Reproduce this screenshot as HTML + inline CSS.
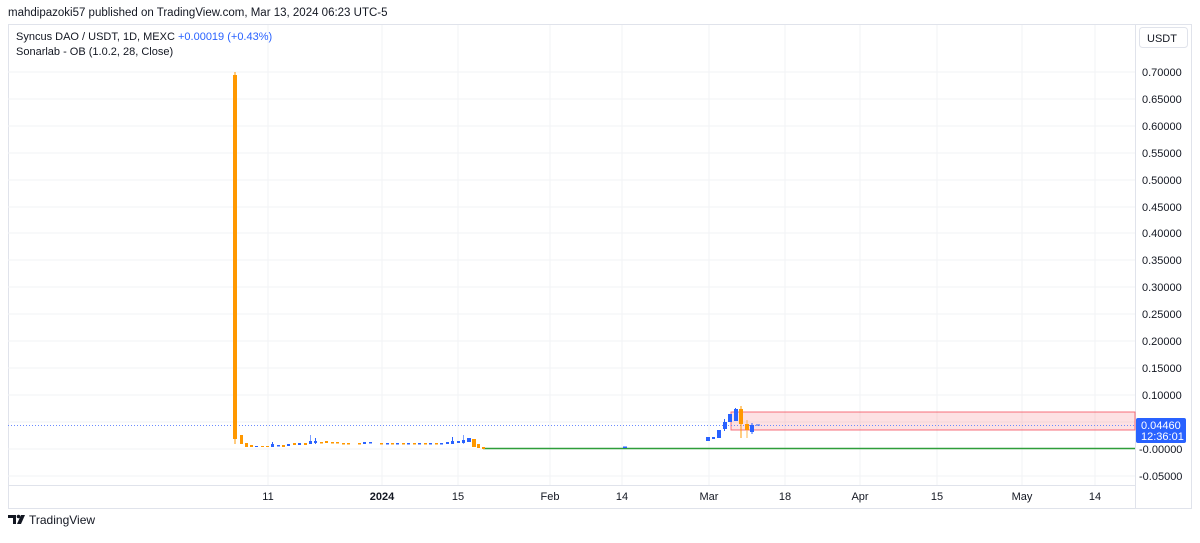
<!DOCTYPE html>
<html><head><meta charset="utf-8"><style>
body{margin:0;background:#fff;width:1200px;height:538px;overflow:hidden;font-family:"Liberation Sans",sans-serif}
</style></head><body>
<svg width="1200" height="538" xmlns="http://www.w3.org/2000/svg" font-family="Liberation Sans, sans-serif">
<rect width="1200" height="538" fill="#fff"/>
<text x="8" y="16" font-size="11.5" fill="#131722">mahdipazoki57 published on TradingView.com, Mar 13, 2024 06:23 UTC-5</text>
<rect x="8.5" y="24.5" width="1183" height="484" fill="none" stroke="#e0e3eb"/>
<line x1="1135.5" y1="25" x2="1135.5" y2="508" stroke="#e0e3eb"/>
<line x1="8" y1="485.5" x2="1135" y2="485.5" stroke="#e0e3eb"/>
<g stroke="#f2f3f5">
<line x1="8" y1="72" x2="1135" y2="72"/><line x1="8" y1="99" x2="1135" y2="99"/><line x1="8" y1="126" x2="1135" y2="126"/><line x1="8" y1="153" x2="1135" y2="153"/><line x1="8" y1="180" x2="1135" y2="180"/><line x1="8" y1="207" x2="1135" y2="207"/><line x1="8" y1="233" x2="1135" y2="233"/><line x1="8" y1="260" x2="1135" y2="260"/><line x1="8" y1="287" x2="1135" y2="287"/><line x1="8" y1="314" x2="1135" y2="314"/><line x1="8" y1="341" x2="1135" y2="341"/><line x1="8" y1="368" x2="1135" y2="368"/><line x1="8" y1="395" x2="1135" y2="395"/><line x1="8" y1="422" x2="1135" y2="422"/><line x1="8" y1="449" x2="1135" y2="449"/><line x1="8" y1="476" x2="1135" y2="476"/>
<line x1="268" y1="25" x2="268" y2="485"/><line x1="382" y1="25" x2="382" y2="485"/><line x1="458" y1="25" x2="458" y2="485"/><line x1="550" y1="25" x2="550" y2="485"/><line x1="622" y1="25" x2="622" y2="485"/><line x1="709" y1="25" x2="709" y2="485"/><line x1="785" y1="25" x2="785" y2="485"/><line x1="860" y1="25" x2="860" y2="485"/><line x1="937" y1="25" x2="937" y2="485"/><line x1="1022" y1="25" x2="1022" y2="485"/><line x1="1095" y1="25" x2="1095" y2="485"/>
</g>
<text x="16" y="40" font-size="11" fill="#131722">Syncus DAO / USDT, 1D, MEXC <tspan fill="#2962ff">+0.00019 (+0.43%)</tspan></text>
<text x="16" y="55" font-size="11" fill="#131722">Sonarlab - OB (1.0.2, 28, Close)</text>
<rect x="1139.5" y="27.5" width="48" height="20" rx="3" fill="#fff" stroke="#e0e3eb"/>
<text x="1147" y="42" font-size="11" fill="#131722">USDT</text>
<g font-size="11" fill="#131722">
<text x="1142" y="76">0.70000</text><text x="1142" y="103">0.65000</text><text x="1142" y="130">0.60000</text><text x="1142" y="157">0.55000</text><text x="1142" y="184">0.50000</text><text x="1142" y="211">0.45000</text><text x="1142" y="237">0.40000</text><text x="1142" y="264">0.35000</text><text x="1142" y="291">0.30000</text><text x="1142" y="318">0.25000</text><text x="1142" y="345">0.20000</text><text x="1142" y="372">0.15000</text><text x="1142" y="399">0.10000</text><text x="1139" y="453">-0.00000</text><text x="1139" y="480">-0.05000</text>
</g>
<g font-size="11" fill="#131722" text-anchor="middle">
<text x="268" y="500">11</text><text x="382" y="500" font-weight="bold">2024</text><text x="458" y="500">15</text><text x="550" y="500">Feb</text><text x="622" y="500">14</text><text x="709" y="500">Mar</text><text x="785" y="500">18</text><text x="860" y="500">Apr</text><text x="937" y="500">15</text><text x="1022" y="500">May</text><text x="1095" y="500">14</text>
</g>
<rect x="731" y="412" width="404" height="18" fill="#f23645" fill-opacity="0.15" stroke="#f23645" stroke-opacity="0.7"/>
<line x1="483" y1="448.5" x2="1135" y2="448.5" stroke="#2e9e3a" stroke-width="1.5"/>
<line x1="8" y1="425.5" x2="1135" y2="425.5" stroke="#6b8cff" stroke-dasharray="1,2"/>
<g>
<line x1="235" y1="72" x2="235" y2="444" stroke="#ff9800"/>
<rect x="233" y="75" width="4" height="364" fill="#ff9800"/>
<g fill="#ff9800">
<rect x="240" y="435" width="3" height="9"/><rect x="245" y="443" width="3" height="4"/><rect x="250" y="445" width="3" height="2"/><rect x="261" y="446" width="3" height="1"/><rect x="266" y="446" width="3" height="1"/><rect x="282" y="445" width="3" height="2"/><rect x="293" y="443" width="3" height="2"/><rect x="304" y="443" width="3" height="2"/><rect x="320" y="442" width="3" height="1.5"/><rect x="325" y="441" width="3" height="2"/><rect x="331" y="442" width="3" height="1.5"/><rect x="336" y="442" width="3" height="1.5"/><rect x="342" y="443" width="3" height="1.5"/><rect x="347" y="443" width="3" height="1.5"/><rect x="358" y="443" width="3" height="1.5"/><rect x="380" y="443" width="3" height="1.5"/><rect x="391" y="443" width="3" height="1.5"/><rect x="402" y="443" width="3" height="1.5"/><rect x="413" y="443" width="3" height="1.5"/><rect x="424" y="443" width="3" height="1.5"/><rect x="435" y="443" width="3" height="1.5"/><rect x="472" y="439" width="4" height="8"/><rect x="477" y="444" width="3" height="4"/><rect x="482" y="447" width="3" height="2"/>
<line x1="741" y1="406" x2="741" y2="438" stroke="#ff9800"/><rect x="739" y="409" width="4" height="15"/>
<line x1="747" y1="420" x2="747" y2="438" stroke="#ffb74d"/><rect x="745" y="424" width="4" height="6"/>
</g>
<g fill="#2962ff">
<rect x="255" y="446" width="3" height="1"/><rect x="271" y="444" width="3" height="3"/><line x1="272.5" y1="442" x2="272.5" y2="447" stroke="#2962ff"/><rect x="277" y="445" width="3" height="1.5"/><rect x="287" y="444" width="3" height="2"/><rect x="298" y="443" width="3" height="2"/><rect x="309" y="441" width="3" height="3"/><line x1="310.5" y1="435" x2="310.5" y2="444" stroke="#2962ff" stroke-opacity="0.6"/><rect x="314" y="441" width="3" height="2"/><line x1="315.5" y1="438" x2="315.5" y2="444" stroke="#2962ff"/><rect x="363" y="442" width="3" height="2"/><rect x="369" y="442" width="3" height="1.5"/><rect x="386" y="443" width="3" height="1.5"/><rect x="396" y="443" width="3" height="1.5"/><rect x="407" y="443" width="3" height="1.5"/><rect x="418" y="443" width="3" height="1.5"/><rect x="429" y="443" width="3" height="1.5"/><rect x="440" y="443" width="3" height="1.5"/><rect x="446" y="442" width="3" height="2"/><rect x="451" y="441" width="3" height="3"/><line x1="452.5" y1="437" x2="452.5" y2="444" stroke="#2962ff"/><rect x="457" y="441" width="3" height="2"/><rect x="462" y="440" width="3" height="3"/><line x1="463.5" y1="435" x2="463.5" y2="444" stroke="#2962ff" stroke-opacity="0.6"/><rect x="467" y="438" width="4" height="4"/>
<rect x="706" y="437" width="4" height="4"/><rect x="712" y="437" width="3" height="2"/><rect x="717" y="430" width="4" height="8"/><line x1="724.5" y1="419" x2="724.5" y2="431" stroke="#2962ff"/><rect x="723" y="422" width="4" height="7"/><rect x="728" y="414" width="4" height="8"/><line x1="735.5" y1="408" x2="735.5" y2="421" stroke="#2962ff"/><rect x="734" y="409" width="4" height="12"/><rect x="750" y="425" width="4" height="7"/><line x1="752" y1="423" x2="752" y2="434" stroke="#2962ff"/><rect x="756" y="424.5" width="4" height="1"/>
<rect x="623" y="446.5" width="4" height="1.5"/>
</g>
</g>
<rect x="1136" y="418" width="50" height="25" rx="2" fill="#2962ff"/>
<text x="1141" y="429" font-size="11" fill="#fff">0.04460</text>
<text x="1141" y="440" font-size="11" fill="#fff">12:36:01</text>
<g transform="translate(8,513)" fill="#131722">
<path d="M0 2h8v9h-3v-6h-5z"/><circle cx="10.5" cy="3.5" r="1.8"/><path d="M13 2h4l-4 9h-4z"/>
</g>
<text x="29" y="524" font-size="12" fill="#131722">TradingView</text>
</svg>
</body></html>
